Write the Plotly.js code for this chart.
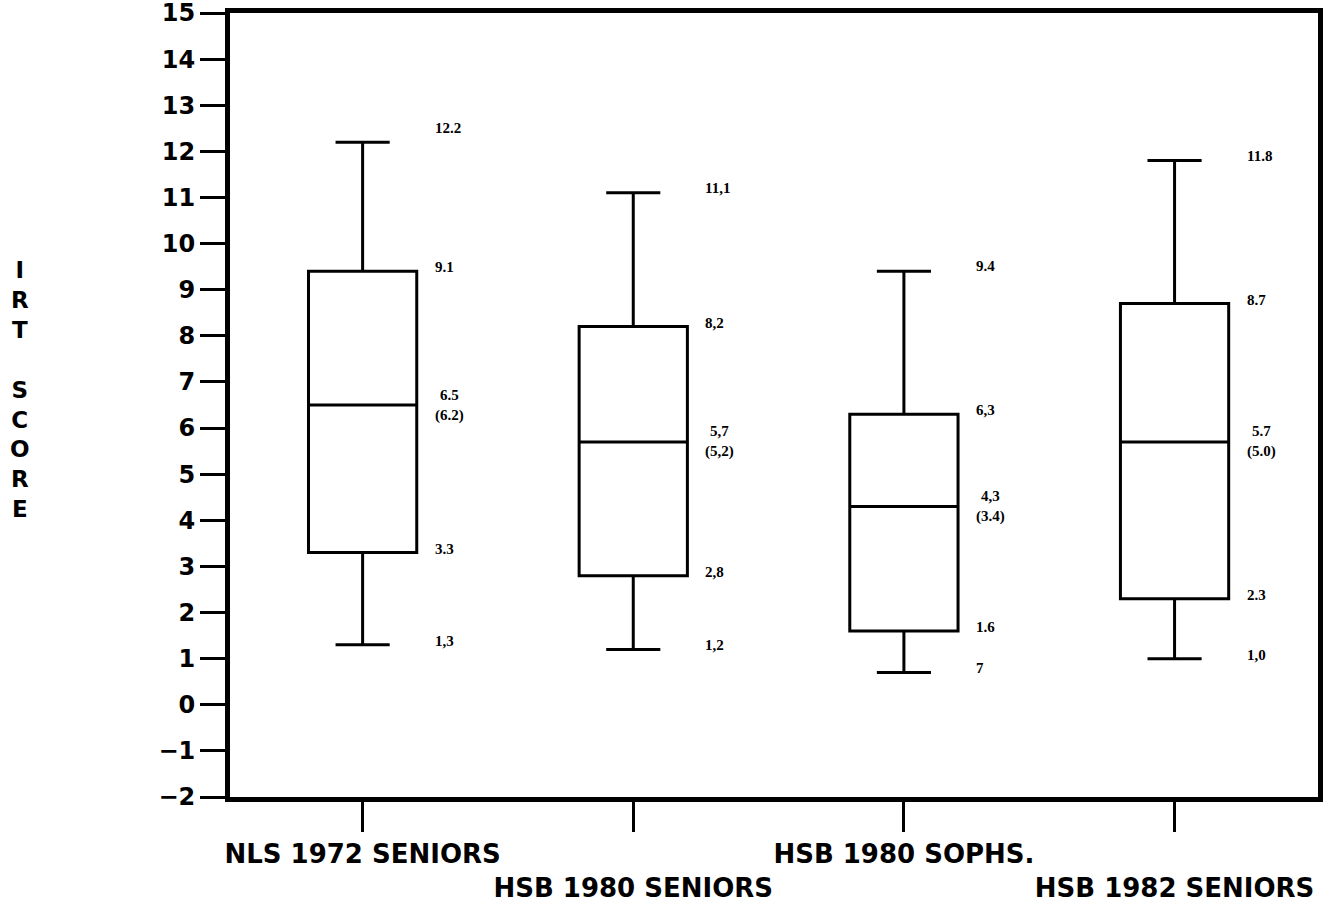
<!DOCTYPE html>
<html>
<head>
<meta charset="utf-8">
<script src="https://cdn.plot.ly/plotly-3.0.1.min.js"></script>
<style>html,body{margin:0;padding:0;background:#fff;}#chart{width:1327px;height:904px;}</style>
</head>
<body>
<div id="chart"></div>
<script>
// ---- data ----
const categories = ['NLS 1972 SENIORS', 'HSB 1980 SENIORS', 'HSB 1980 SOPHS.', 'HSB 1982 SENIORS'];
const tickStagger = [false, true, false, true];
const lowerWhisker = [1.3, 1.2, 0.7, 1.0];
const q1 = [3.3, 2.8, 1.6, 2.3];
const median = [6.5, 5.7, 4.3, 5.7];
const q3 = [9.4, 8.2, 6.3, 8.7];
const upperWhisker = [12.2, 11.1, 9.4, 11.8];
const upperLabels = ['12.2', '11,1', '9.4', '11.8'];
const q3Labels = ['9.1', '8,2', '6,3', '8.7'];
const medianLabels = ['6.5', '5,7', '4,3', '5.7'];
const meanLabels = ['(6.2)', '(5,2)', '(3.4)', '(5.0)'];
const q1Labels = ['3.3', '2,8', '1.6', '2.3'];
const lowerLabels = ['1,3', '1,2', '7', '1,0'];
const yTicks = [-2, -1, 0, 1, 2, 3, 4, 5, 6, 7, 8, 9, 10, 11, 12, 13, 14, 15];
const yTitle = 'IRT SCORE';

const xs = categories.map((c, i) => i);

const trace = {
  type: 'box',
  x: xs,
  q1: q1,
  median: median,
  q3: q3,
  lowerfence: lowerWhisker,
  upperfence: upperWhisker,
  width: 0.4,
  whiskerwidth: 0.5,
  boxpoints: false,
  fillcolor: 'rgba(0,0,0,0)',
  line: {color: '#000', width: 3},
  hoverinfo: 'skip',
  showlegend: false
};

const labelFont = {family: 'Liberation Serif', size: 15, color: '#000', weight: 'bold'};
const annotations = [];
function addLabel(i, y, text, yshift) {
  annotations.push({
    x: xs[i] + 0.2, y: y, xref: 'x', yref: 'y',
    text: '<b>' + text + '</b>', showarrow: false,
    xanchor: 'left', yanchor: 'middle', xshift: 16, yshift: yshift,
    font: labelFont
  });
}
xs.forEach((x, i) => {
  addLabel(i, upperWhisker[i], upperLabels[i], i === 0 ? 14 : 5);
  addLabel(i, q3[i], q3Labels[i], 4);
  addLabel(i, median[i], medianLabels[i] + '<br>' + meanLabels[i], 0);
  addLabel(i, q1[i], q1Labels[i], 4);
  addLabel(i, lowerWhisker[i], lowerLabels[i], 4);
});

// stacked vertical y title
annotations.push({
  xref: 'paper', yref: 'paper', x: -0.193, y: 0.52,
  text: '<b>' + yTitle.split('').map(ch => ch === ' ' ? '' : ch).join('<br>') + '</b>',
  showarrow: false, xanchor: 'center', yanchor: 'middle',
  font: {family: 'DejaVu Sans', size: 23, color: '#000'}
});

const layout = {
  width: 1327, height: 904,
  margin: {l: 230, r: 9, t: 13, b: 107, pad: 0},
  paper_bgcolor: '#fff', plot_bgcolor: '#fff',
  showlegend: false,
  xaxis: {
    range: [-0.49, 3.53],
    tickmode: 'array',
    tickvals: xs,
    ticktext: categories.map((c, i) => '<b>' + (tickStagger[i] ? '<br>' : '') + c + '</b>'),
    tickangle: 0,
    ticks: 'outside', ticklen: 30, tickwidth: 3, tickcolor: '#000',
    tickfont: {family: 'DejaVu Sans', size: 26, color: '#000'},
    showline: true, linewidth: 5, linecolor: '#000', mirror: true,
    showgrid: false, zeroline: false, fixedrange: true
  },
  yaxis: {
    range: [-2, 15],
    tickmode: 'array', tickvals: yTicks,
    ticks: 'outside', ticklen: 25, tickwidth: 3, tickcolor: '#000',
    tickfont: {family: 'DejaVu Sans', size: 24, color: '#000', weight: 'bold'},
    ticklabeloverflow: 'allow',
    showline: true, linewidth: 5, linecolor: '#000', mirror: true,
    showgrid: false, zeroline: false, fixedrange: true
  },
  annotations: annotations
};

Plotly.newPlot('chart', [trace], layout, {displayModeBar: false, staticPlot: true});
</script>
</body>
</html>
